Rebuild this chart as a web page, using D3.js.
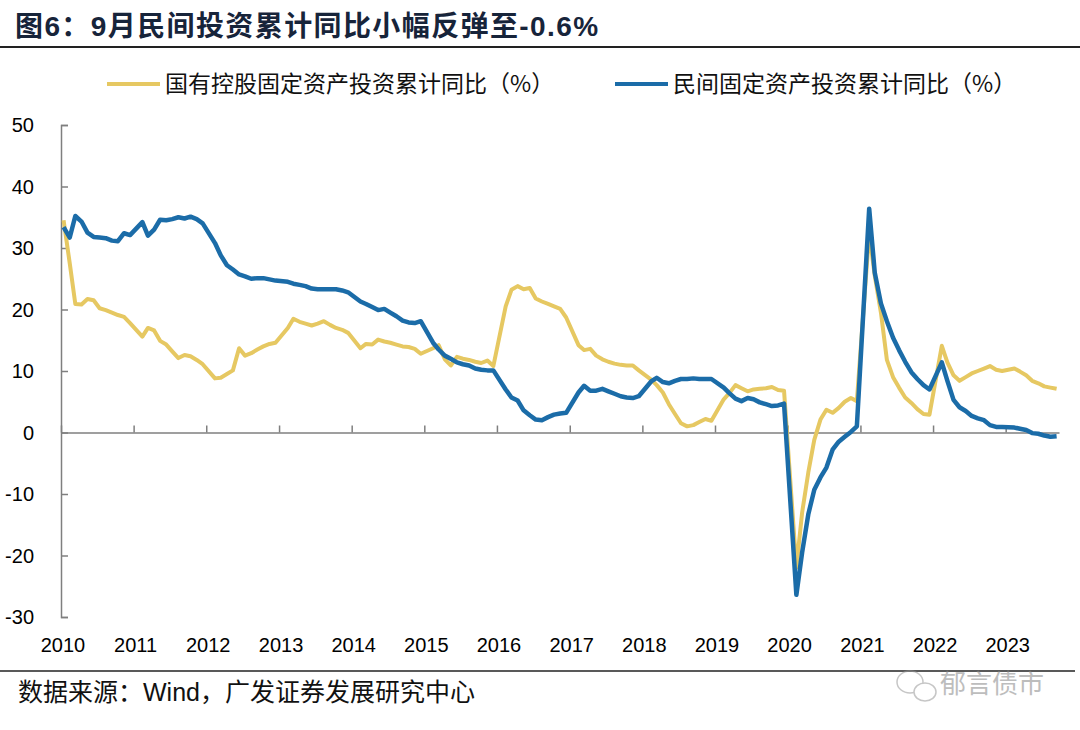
<!DOCTYPE html>
<html>
<head>
<meta charset="utf-8">
<script src="https://cdn.jsdelivr.net/npm/d3@7"></script>
<style>
body { margin: 0; background: #fff; }
svg { display: block; }
</style>
</head>
<body>
<svg id="chart"></svg>
<script>
// 国有控股 / 民间 固定资产投资累计同比 (%), 2010-01, then Feb..Dec each year, 2023 to Sep
var years = [2010, 2011, 2012, 2013, 2014, 2015, 2016, 2017, 2018, 2019, 2020, 2021, 2022, 2023]
var yTicks = [-30, -20, -10, 0, 10, 20, 30, 40, 50]

var stateOwned = [
  34.5,
  27.5, 20.9, 20.8, 21.7, 21.5, 20.2, 19.9, 19.5, 19.1, 18.8, 17.8,   // 2010
  15.6, 17.0, 16.6, 14.9, 14.3, 13.2, 12.1, 12.6, 12.4, 11.8, 11.1,   // 2011
  8.8, 8.9, 9.5, 10.1, 13.7, 12.5, 12.9, 13.5, 14.0, 14.4, 14.6,      // 2012
  17.0, 18.5, 18.0, 17.7, 17.4, 17.7, 18.1, 17.5, 17.0, 16.7, 16.2,   // 2013
  13.7, 14.4, 14.3, 15.1, 14.8, 14.6, 14.3, 14.0, 13.9, 13.6, 12.8,   // 2014
  13.7, 14.2, 11.9, 10.9, 12.3, 12.0, 11.8, 11.5, 11.3, 11.7, 10.8,   // 2015
  20.5, 23.2, 23.8, 23.3, 23.5, 21.8, 21.3, 20.9, 20.5, 20.1, 18.7,   // 2016
  14.2, 13.4, 13.6, 12.5, 11.9, 11.5, 11.2, 11.0, 10.9, 10.9, 10.1,   // 2017
  8.6, 7.7, 6.5, 4.6, 3.0, 1.5, 1.0, 1.2, 1.7, 2.2, 1.9,              // 2018
  5.4, 6.4, 7.7, 7.2, 6.7, 7.0, 7.1, 7.2, 7.4, 6.9, 6.8,              // 2019
  -22.0, -13.0, -6.5, -1.2, 2.1, 3.7, 3.2, 4.0, 5.0, 5.6, 5.1,        // 2020
  32.5, 25.5, 19.5, 11.8, 9.0, 7.3, 5.7, 4.8, 3.8, 3.0, 2.9,          // 2021
  14.1, 11.4, 9.3, 8.4, 9.0, 9.6, 10.0, 10.4, 10.8, 10.2, 10.0,       // 2022
  10.4, 9.9, 9.3, 8.4, 8.0, 7.5, 7.3, 7.1                             // 2023
]

var privateInv = [
  33.4,
  31.7, 35.2, 34.3, 32.5, 31.8, 31.7, 31.6, 31.2, 31.1, 32.4, 32.1,   // 2010
  34.2, 32.0, 33.0, 34.6, 34.5, 34.7, 35.0, 34.8, 35.1, 34.7, 34.0,   // 2011
  30.8, 28.8, 27.2, 26.5, 25.7, 25.4, 25.0, 25.1, 25.1, 24.9, 24.7,   // 2012
  24.5, 24.2, 24.0, 23.8, 23.4, 23.3, 23.3, 23.3, 23.3, 23.1, 22.8,   // 2013
  21.3, 20.9, 20.4, 19.9, 20.1, 19.5, 18.9, 18.2, 17.9, 17.8, 18.1,   // 2014
  14.6, 13.5, 12.5, 12.0, 11.4, 11.1, 10.9, 10.4, 10.2, 10.1, 10.1,   // 2015
  7.0, 5.7, 5.2, 3.6, 2.8, 2.1, 2.0, 2.5, 2.9, 3.1, 3.2,              // 2016
  6.5, 7.6, 6.8, 6.8, 7.1, 6.7, 6.3, 5.9, 5.7, 5.6, 5.9,              // 2017
  8.3, 8.9, 8.2, 8.0, 8.4, 8.7, 8.7, 8.8, 8.7, 8.7, 8.7,              // 2018
  7.3, 6.4, 5.5, 5.1, 5.6, 5.4, 4.9, 4.6, 4.3, 4.4, 4.7,              // 2019
  -26.4, -19.5, -13.3, -9.3, -7.3, -5.7, -2.8, -1.5, -0.7, 0.1, 1.0,  // 2020
  36.4, 26.0, 21.0, 18.1, 15.4, 13.4, 11.5, 9.8, 8.7, 7.7, 7.0,       // 2021
  11.4, 8.4, 5.3, 4.1, 3.5, 2.7, 2.3, 2.0, 1.2, 0.9, 0.9,             // 2022
  0.8, 0.6, 0.4, -0.1, -0.2, -0.5, -0.7, -0.6                         // 2023
]

var seriesNames = ["国有控股固定资产投资累计同比（%）", "民间固定资产投资累计同比（%）"]
var colors = ["#e6c862", "#1b6ca8"]

// month dates: Jan 2010, then Feb..Dec (no standalone Jan figure), last Sep 2023
var dates = [new Date(2010, 0, 14)]
years.forEach(function(y) {
  var last = (y == 2023) ? 8 : 11
  for (var m = 1; m <= last; m++) dates.push(new Date(y, m, 14))
})

var screen = {width: 1080, height: 730}
var plot = {left: 61, right: 1059, top: 125, bottom: 617}

var svg = d3.select("#chart")
  .attr("width", screen.width)
  .attr("height", screen.height)

svg.append("rect").attr("width", screen.width).attr("height", screen.height).attr("fill", "#fff")

var latin = "'Liberation Sans', Arial, 'Noto Sans CJK SC', sans-serif"

// title
svg.append("text")
  .attr("x", 15).attr("y", 36)
  .attr("font-family", latin)
  .attr("font-weight", "bold")
  .attr("font-size", 28)
  .attr("letter-spacing", 1.4)
  .attr("fill", "#17243a")
  .text("图6：9月民间投资累计同比小幅反弹至-0.6%")

svg.append("line")
  .attr("x1", 0).attr("x2", 1080).attr("y1", 47).attr("y2", 47)
  .attr("stroke", "#222").attr("stroke-width", 2)

var xScale = d3.scaleTime()
  .domain([new Date(2010, 0, 1), new Date(2023, 8, 26)])
  .range([plot.left, plot.right])

var yScale = d3.scaleLinear()
  .domain([-30, 50])
  .range([plot.bottom, plot.top])

// y axis
var yAxis = d3.axisRight(yScale).tickValues(yTicks).tickSize(7).tickFormat("")
svg.append("g")
  .attr("transform", "translate(" + plot.left + ",0)")
  .call(yAxis)
  .call(function(g) {
    g.select(".domain").attr("stroke", "#7f7f7f").attr("stroke-width", 1.5)
    g.selectAll(".tick line").attr("stroke", "#7f7f7f").attr("stroke-width", 1.5)
  })

svg.append("g").selectAll("text")
  .data(yTicks)
  .enter()
  .append("text")
  .attr("x", 34)
  .attr("y", function(d) { return yScale(d) + 7 })
  .attr("text-anchor", "end")
  .attr("font-family", latin)
  .attr("font-size", 20)
  .attr("fill", "#000")
  .text(function(d) { return d })

// x axis on zero line, labels below plot
var yearDates = years.map(function(y) { return new Date(y, 0, 1) })
var xAxis = d3.axisTop(xScale).tickValues(yearDates).tickSize(7).tickFormat("").tickSizeOuter(0)
svg.append("g")
  .attr("transform", "translate(0," + yScale(0) + ")")
  .call(xAxis)
  .call(function(g) {
    g.select(".domain").attr("stroke", "#7f7f7f").attr("stroke-width", 1.5)
    g.selectAll(".tick line").attr("stroke", "#7f7f7f").attr("stroke-width", 1.5)
  })

svg.append("g").selectAll("text")
  .data(yearDates)
  .enter()
  .append("text")
  .attr("x", function(d) { return xScale(d) + 2 })
  .attr("y", 652)
  .attr("text-anchor", "middle")
  .attr("font-family", latin)
  .attr("font-size", 20)
  .attr("fill", "#000")
  .text(function(d) { return d.getFullYear() })

// lines
var line = d3.line()
  .x(function(d) { return xScale(d[0]) })
  .y(function(d) { return yScale(d[1]) })

var allSeries = [stateOwned, privateInv]
allSeries.forEach(function(vals, i) {
  svg.append("path")
    .datum(dates.map(function(d, j) { return [d, vals[j]] }))
    .attr("d", line)
    .attr("fill", "none")
    .attr("stroke", colors[i])
    .attr("stroke-width", i == 0 ? 4 : 4.5)
    .attr("stroke-linejoin", "round")
})

// legend
var legendX = [107, 615]
seriesNames.forEach(function(name, i) {
  var g = svg.append("g").attr("transform", "translate(" + legendX[i] + ",84)")
  g.append("line").attr("x1", 0).attr("x2", 53).attr("y1", 0).attr("y2", 0)
    .attr("stroke", colors[i]).attr("stroke-width", 4)
  g.append("text")
    .attr("x", 58).attr("y", 8)
    .attr("font-family", "'Noto Sans CJK SC', sans-serif")
    .attr("font-size", 23)
    .attr("fill", "#111")
    .text(name)
})

// footer
svg.append("line")
  .attr("x1", 0).attr("x2", 1075).attr("y1", 671).attr("y2", 671)
  .attr("stroke", "#222").attr("stroke-width", 1.5)

svg.append("text")
  .attr("x", 18).attr("y", 701)
  .attr("font-family", latin)
  .attr("font-size", 25)
  .attr("fill", "#111")
  .text("数据来源：Wind，广发证券发展研究中心")

// watermark
var wm = svg.append("g").attr("opacity", 0.55)
wm.append("ellipse").attr("cx", 910).attr("cy", 682).attr("rx", 13).attr("ry", 11)
  .attr("fill", "none").attr("stroke", "#999").attr("stroke-width", 1.5)
wm.append("ellipse").attr("cx", 925).attr("cy", 692).attr("rx", 11).attr("ry", 9)
  .attr("fill", "#fff").attr("stroke", "#999").attr("stroke-width", 1.5)
wm.append("text")
  .attr("x", 940).attr("y", 693)
  .attr("font-family", "'Noto Sans CJK SC', sans-serif")
  .attr("font-size", 26)
  .attr("fill", "#888")
  .text("郁言债市")
</script>
</body>
</html>
